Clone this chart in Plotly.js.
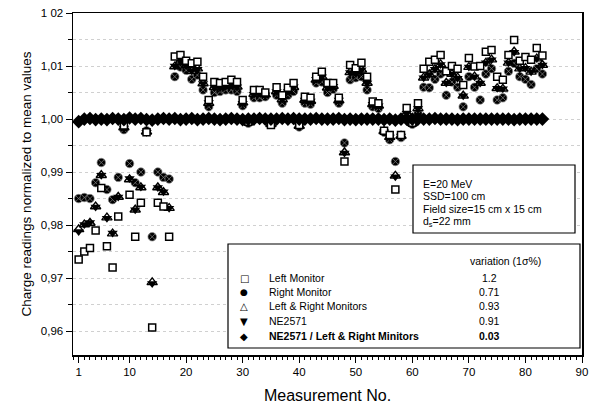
<!DOCTYPE html>
<html>
<head>
<meta charset="utf-8">
<script src="https://cdn.plot.ly/plotly-3.0.1.min.js"></script>
<style>
html,body{margin:0;padding:0;background:#fff;}
#chart{width:589px;height:414px;}
</style>
</head>
<body>
<div id="chart"></div>
<script>
// Measurement numbers
const measurement = [];
for (let i = 1; i <= 83; i++) measurement.push(i);

// Left Monitor (open squares)
const leftMonitor = [
 0.9735,0.9750,0.9757,0.9790,0.9870,0.9760,0.9720,0.9816,0.9988,0.9857,
 0.9778,0.9842,0.9975,0.9607,0.9842,0.9835,0.9778,1.0118,1.0121,1.0110,
 1.0105,1.0108,1.0080,1.0036,1.0070,1.0068,1.0070,1.0074,1.0070,1.0036,
 0.9995,1.0055,1.0055,1.0050,0.9989,1.0060,1.0045,1.0059,1.0068,0.9989,
 1.0042,1.0040,1.0080,1.0089,1.0068,1.0068,1.0040,0.9920,1.0102,1.0096,
 1.0106,1.0080,1.0033,1.0030,0.9978,0.9970,0.9867,0.9970,1.0021,0.9993,
 1.0030,1.0095,1.0108,1.0112,1.0121,1.0090,1.0100,1.0095,1.0064,1.0115,
 1.0099,1.0100,1.0127,1.0130,1.0080,1.0074,1.0121,1.0149,1.0110,1.0117,
 1.0112,1.0134,1.0120
];

// Right Monitor (circles)
const rightMonitor = [
 0.9850,0.9852,0.9850,0.9880,0.9918,0.9867,0.9848,0.9890,0.9980,0.9916,
 0.9880,0.9900,0.9978,0.9778,0.9900,0.9890,0.9887,1.0080,1.0098,1.0092,
 1.0075,1.0083,1.0055,1.0023,1.0050,1.0052,1.0055,1.0055,1.0052,1.0025,
 0.9992,1.0040,1.0040,1.0042,0.9992,1.0045,1.0030,1.0045,1.0052,0.9985,
 1.0030,1.0028,1.0068,1.0070,1.0050,1.0056,1.0030,0.9955,1.0074,1.0078,
 1.0080,1.0055,1.0023,1.0020,0.9975,0.9961,0.9920,0.9965,1.0000,0.9990,
 1.0010,1.0060,1.0059,1.0075,1.0085,1.0045,1.0070,1.0060,1.0023,1.0080,
 1.0060,1.0036,1.0085,1.0095,1.0036,1.0040,1.0090,1.0105,1.0080,1.0075,
 1.0065,1.0095,1.0085
];

// Left & Right Monitors (open triangles)
const leftRightMonitors = [
 0.9792,0.9801,0.9804,0.9835,0.9894,0.9814,0.9784,0.9853,0.9984,0.9886,
 0.9829,0.9871,0.9976,0.9692,0.9871,0.9862,0.9832,1.0099,1.0110,1.0101,
 1.0090,1.0095,1.0067,1.0030,1.0060,1.0060,1.0062,1.0064,1.0061,1.0031,
 0.9994,1.0047,1.0048,1.0046,0.9990,1.0052,1.0037,1.0052,1.0060,0.9987,
 1.0036,1.0034,1.0074,1.0080,1.0059,1.0062,1.0035,0.9937,1.0088,1.0087,
 1.0093,1.0068,1.0028,1.0025,0.9977,0.9966,0.9893,0.9968,1.0011,0.9992,
 1.0020,1.0078,1.0084,1.0094,1.0103,1.0068,1.0085,1.0078,1.0044,1.0098,
 1.0080,1.0068,1.0106,1.0112,1.0058,1.0057,1.0106,1.0127,1.0095,1.0096,
 1.0089,1.0114,1.0102
];

// NE2571 (filled down triangles)
const ne2571 = [
 0.9788,0.9801,0.9805,0.9834,0.9894,0.9813,0.9785,0.9853,0.9983,0.9888,
 0.9829,0.9872,0.9975,0.9690,0.9871,0.9863,0.9832,1.0100,1.0109,1.0101,
 1.0091,1.0094,1.0067,1.0031,1.0060,1.0059,1.0062,1.0065,1.0061,1.0030,
 0.9994,1.0047,1.0049,1.0046,0.9990,1.0052,1.0038,1.0052,1.0061,0.9987,
 1.0036,1.0034,1.0075,1.0080,1.0059,1.0062,1.0036,0.9936,1.0088,1.0086,
 1.0093,1.0068,1.0028,1.0025,0.9976,0.9966,0.9891,0.9968,1.0011,0.9992,
 1.0020,1.0078,1.0084,1.0094,1.0103,1.0068,1.0085,1.0077,1.0044,1.0098,
 1.0080,1.0068,1.0106,1.0112,1.0058,1.0057,1.0106,1.0126,1.0095,1.0096,
 1.0089,1.0114,1.0102
];

// NE2571 / Left & Right Monitors (filled diamonds)
const ratio = [
 0.9995,1.0000,1.0001,0.9999,1.0000,0.9999,1.0001,1.0000,0.9999,1.0002,
 1.0000,1.0001,0.9999,0.9998,1.0000,1.0001,1.0000,1.0001,0.9999,1.0000,
 1.0001,0.9999,1.0000,1.0001,1.0000,0.9999,1.0000,1.0001,1.0000,0.9999,
 1.0000,1.0000,1.0001,1.0000,1.0000,1.0000,1.0001,1.0000,1.0001,1.0000,
 1.0000,1.0000,1.0001,1.0000,1.0000,1.0000,1.0001,0.9999,1.0000,0.9999,
 1.0000,1.0000,1.0000,1.0000,0.9999,1.0000,0.9998,1.0000,1.0000,1.0000,
 1.0000,1.0000,1.0000,1.0001,1.0000,1.0000,1.0000,0.9999,1.0000,1.0000,
 1.0000,1.0000,1.0000,1.0000,1.0000,1.0000,1.0000,0.9999,1.0000,1.0000,
 1.0000,1.0000,1.0000
];

// Legend texts
const seriesNames = ["Left Monitor","Right Monitor","Left & Right Monitors","NE2571","NE2571 / Left & Right Minitors"];
const seriesSymbols = ["\u25A1","\u25CF","\u25B3","\u25BC","\u25C6"];
const variation = ["1.2","0.71","0.93","0.91","0.03"];
const variationHeader = "variation (1\u03C3%)";
const infoLines = ["E=20 MeV","SSD=100 cm","Field size=15 cm x 15 cm","d<sub>s</sub>=22 mm"];

// Axis ticks
const xTickVals = [1,10,20,30,40,50,60,70,80,90];
const xTickText = ["1","10","20","30","40","50","60","70","80","90"];
const yTickVals = [0.96,0.97,0.98,0.99,1.00,1.01,1.02];
const yTickText = ["0,96","0,97","0,98","0,99","1,00","1,01","1 02"];

const FONT = "Liberation Sans, Arial, sans-serif";

const traces = [
 {x: measurement, y: rightMonitor, mode:'markers', type:'scatter', name: seriesNames[1],
  marker:{symbol:'circle-x', size:8.5, color:'#000', line:{color:'#888', width:0.7}}},
 {x: measurement, y: ne2571, mode:'markers', type:'scatter', name: seriesNames[3],
  marker:{symbol:'triangle-down', size:9, color:'#000'}},
 {x: measurement, y: leftRightMonitors, mode:'markers', type:'scatter', name: seriesNames[2],
  marker:{symbol:'triangle-up-open', size:9, color:'#000', line:{width:1.4}}},
 {x: measurement, y: leftMonitor, mode:'markers', type:'scatter', name: seriesNames[0],
  marker:{symbol:'square', size:7, color:'#fff', line:{color:'#000', width:1.5}}},
 {x: measurement, y: ratio, mode:'markers', type:'scatter', name: seriesNames[4],
  marker:{symbol:'diamond', size:10.5, color:'#000'}}
];

// paper coordinate helpers (plot area 73..582 x, 13..355 y)
const L = 73, R = 582, T = 13, B = 355;
const px = v => (v - L) / (R - L);
const py = v => (B - v) / (B - T);

const annotations = [];
const shapes = [];

// info box
shapes.push({type:'rect', xref:'paper', yref:'paper', x0:px(413), x1:px(575), y0:py(233), y1:py(165),
  line:{color:'#000', width:1.2}, fillcolor:'#fff', layer:'above'});
infoLines.forEach((t,i)=>{
  annotations.push({xref:'paper', yref:'paper', x:px(421), y:py(184 + i*12.5), xanchor:'left', yanchor:'middle',
    text:t, showarrow:false, font:{family:FONT, size:10.5, color:'#000'}});
});

// legend box
shapes.push({type:'rect', xref:'paper', yref:'paper', x0:px(228), x1:px(580), y0:py(348), y1:py(244),
  line:{color:'#000', width:1.2}, fillcolor:'#fff', layer:'above'});
annotations.push({xref:'paper', yref:'paper', x:px(505), y:py(261), xanchor:'center', yanchor:'middle',
  text:variationHeader, showarrow:false, font:{family:FONT, size:10.5, color:'#000'}});
const rowY = [278, 292, 306, 321, 336];
seriesNames.forEach((n,i)=>{
  const bold = i === 4;
  annotations.push({xref:'paper', yref:'paper', x:px(244), y:py(rowY[i]), xanchor:'center', yanchor:'middle',
    text:seriesSymbols[i], showarrow:false, font:{family:'DejaVu Sans, sans-serif', size: i===1?9:10, color:'#000'}});
  annotations.push({xref:'paper', yref:'paper', x:px(267), y:py(rowY[i]), xanchor:'left', yanchor:'middle',
    text: bold ? '<b>'+n+'</b>' : n, showarrow:false, font:{family:FONT, size:10.5, color:'#000'}});
  annotations.push({xref:'paper', yref:'paper', x:px(489), y:py(rowY[i]), xanchor:'center', yanchor:'middle',
    text: bold ? '<b>'+variation[i]+'</b>' : variation[i], showarrow:false, font:{family:FONT, size:10.5, color:'#000'}});
});

const layout = {
  width:589, height:414,
  margin:{l:L, r:589-R, t:T, b:414-B},
  paper_bgcolor:'#fff', plot_bgcolor:'#fff',
  showlegend:false,
  font:{family:FONT, size:11, color:'#000'},
  xaxis:{
    range:[0,90], tickmode:'array', tickvals:xTickVals, ticktext:xTickText,
    ticks:'outside', ticklen:6, tickwidth:1, tickcolor:'#000',
    minor:{tick0:0, dtick:1, ticks:'outside', ticklen:3, tickcolor:'#000', showgrid:false},
    showline:true, linecolor:'#000', linewidth:1.5, mirror:true,
    showgrid:false, zeroline:false,
    tickfont:{family:FONT, size:11.5},
    title:{text:'Measurement No.', font:{family:FONT, size:16}, standoff:12}
  },
  yaxis:{
    range:[0.9555, 1.02], tickmode:'array', tickvals:yTickVals, ticktext:yTickText,
    ticks:'outside', ticklen:6, tickwidth:1, tickcolor:'#000',
    minor:{dtick:0.005, tick0:0.955, ticks:'outside', ticklen:4, tickcolor:'#000',
           showgrid:true, gridcolor:'#d0d0d0', griddash:'dot', gridwidth:1},
    showline:true, linecolor:'#000', linewidth:1.5, mirror:true,
    showgrid:true, gridcolor:'#d0d0d0', griddash:'dot', gridwidth:1, zeroline:false,
    tickfont:{family:FONT, size:11.5},
    title:{text:'Charge readings normalized to mean values', font:{family:FONT, size:13.5}, standoff:6}
  },
  shapes: shapes,
  annotations: annotations
};

Plotly.newPlot('chart', traces, layout, {staticPlot:true, displayModeBar:false});
</script>
</body>
</html>
